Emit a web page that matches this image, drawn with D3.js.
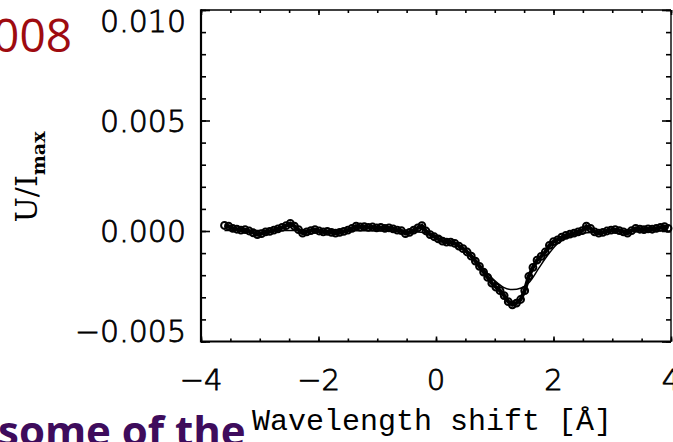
<!DOCTYPE html>
<html>
<head>
<meta charset="utf-8">
<script src="https://cdn.jsdelivr.net/npm/d3@7"></script>
<style>
  html, body { margin: 0; padding: 0; background: #fff; overflow: hidden; }
</style>
</head>
<body>
<div id="chart"></div>
<script>
// Stokes U profile vs wavelength shift, observed points + fitted curve

// observed points (wavelength shift in Angstrom, U/Imax)
const obsX = [-3.60,-3.53,-3.46,-3.39,-3.32,-3.25,-3.18,-3.11,-3.04,-2.97,-2.90,-2.83,-2.76,-2.69,-2.62,-2.55,-2.48,-2.41,-2.34,-2.27,
  -2.20,-2.13,-2.06,-1.99,-1.92,-1.85,-1.78,-1.71,-1.64,-1.57,-1.50,-1.43,-1.36,-1.29,-1.22,-1.15,-1.08,-1.01,-0.94,-0.87,
  -0.80,-0.73,-0.66,-0.59,-0.52,-0.45,-0.38,-0.31,-0.24,-0.17,-0.10,-0.03,0.04,0.11,0.18,0.25,0.32,0.39,0.46,0.53,
  0.60,0.67,0.74,0.81,0.88,0.95,1.02,1.09,1.16,1.23,1.30,1.37,1.44,1.51,1.58,1.65,1.72,1.79,1.86,1.93,
  2.00,2.07,2.14,2.21,2.28,2.35,2.42,2.49,2.56,2.63,2.70,2.77,2.84,2.91,2.98,3.05,3.12,3.19,3.26,3.33,
  3.40,3.47,3.54,3.61,3.68,3.75,3.82,3.89,3.95];
const obsU = [0.00025,0.00022,0.00012,0.00008,0.00004,0.00006,0.00000,-0.00008,-0.00016,-0.00012,-0.00004,-0.00002,0.00004,0.00010,0.00016,0.00024,0.00034,0.00022,0.00006,-0.00010,
  -0.00004,0.00002,0.00006,0.00000,-0.00004,-0.00002,-0.00006,-0.00010,-0.00006,-0.00002,0.00004,0.00012,0.00022,0.00018,0.00020,0.00016,0.00018,0.00014,0.00016,0.00012,
  0.00014,0.00010,0.00004,0.00002,-0.00012,-0.00006,0.00004,0.00014,0.00024,0.00000,-0.00016,-0.00026,-0.00036,-0.00046,-0.00050,-0.00050,-0.00056,-0.00068,-0.00080,-0.00095,
  -0.00114,-0.00136,-0.00160,-0.00186,-0.00210,-0.00236,-0.00254,-0.00270,-0.00292,-0.00320,-0.00334,-0.00326,-0.00310,-0.00270,-0.00205,-0.00165,-0.00132,-0.00115,-0.00095,-0.00065,
  -0.00048,-0.00040,-0.00028,-0.00020,-0.00014,-0.00010,-0.00004,0.00002,0.00022,0.00012,-0.00004,-0.00010,-0.00006,0.00000,0.00004,0.00006,0.00002,-0.00004,-0.00010,0.00002,
  0.00012,0.00008,0.00006,0.00010,0.00008,0.00012,0.00016,0.00020,0.00012];

// fitted profile
const fitX = [-3.6,-2.0,-1.0,-0.5,-0.2,0.0,0.2,0.4,0.6,0.8,1.0,1.15,1.3,1.45,1.6,1.75,1.9,2.05,2.2,2.4,2.7,3.1,3.95];
const fitU = [0.00002,0.00002,0.00001,-0.00002,-0.00008,-0.00020,-0.00040,-0.00070,-0.00110,-0.00170,-0.00225,-0.00255,-0.00265,-0.00258,-0.00228,-0.00168,-0.00110,-0.00062,-0.00032,-0.00015,-0.00006,-0.00002,0.00001];

// axis ticks
const xTickVals = [-4, -2, 0, 2, 4];
const yTickVals = [-0.005, 0.000, 0.005, 0.010];
const yTickLabels = ["\u22120.005", "0.000", "0.005", "0.010"];

const width = 673, height = 442;
const plotL = 201, plotR = 671, plotT = 10, plotB = 341.5;

const svg = d3.select("#chart").append("svg")
    .attr("width", width)
    .attr("height", height);

const x = d3.scaleLinear().domain([-4, 4]).range([plotL, plotR]);
const y = d3.scaleLinear().domain([-0.005, 0.010]).range([plotB, plotT]);

// minor / major ticks on all four sides (pointing inward)
const xMinor = d3.range(-4, 4.001, 0.5);
const yMinor = d3.range(-0.005, 0.01001, 0.001);

function tickGroup(axis, tx, ty) {
  const g = svg.append("g").attr("transform", `translate(${tx},${ty})`).call(axis);
  g.select(".domain").remove();
  g.selectAll("text").remove();
  g.selectAll("line").attr("stroke", "#000").attr("stroke-width", 1.6);
  return g;
}
tickGroup(d3.axisBottom(x).tickValues(xMinor).tickSize(-3), 0, plotB);
tickGroup(d3.axisBottom(x).tickValues(xTickVals).tickSize(-5), 0, plotB);
tickGroup(d3.axisTop(x).tickValues(xMinor).tickSize(-3), 0, plotT);
tickGroup(d3.axisTop(x).tickValues(xTickVals).tickSize(-5), 0, plotT);
tickGroup(d3.axisLeft(y).tickValues(yMinor).tickSize(-5), plotL, 0);
tickGroup(d3.axisLeft(y).tickValues(yTickVals).tickSize(-9), plotL, 0);
tickGroup(d3.axisRight(y).tickValues(yMinor).tickSize(-5), plotR, 0);
tickGroup(d3.axisRight(y).tickValues(yTickVals).tickSize(-9), plotR, 0);

// frame
svg.append("line").attr("x1", plotL).attr("x2", plotR).attr("y1", plotT).attr("y2", plotT)
    .attr("stroke", "#000").attr("stroke-width", 1.4);
svg.append("line").attr("x1", plotR).attr("x2", plotR).attr("y1", plotT).attr("y2", plotB)
    .attr("stroke", "#000").attr("stroke-width", 1.4);
svg.append("line").attr("x1", plotL).attr("x2", plotR).attr("y1", plotB).attr("y2", plotB)
    .attr("stroke", "#000").attr("stroke-width", 2);
svg.append("line").attr("x1", plotL).attr("x2", plotL).attr("y1", plotT - 0.7).attr("y2", plotB + 1)
    .attr("stroke", "#000").attr("stroke-width", 2.2);

// tick labels
svg.append("g").selectAll("text")
  .data(xTickVals)
  .join("text")
    .attr("x", d => x(d))
    .attr("y", 390)
    .attr("text-anchor", "middle")
    .attr("font-family", "DejaVu Sans")
    .attr("font-weight", 200)
    .attr("font-size", 29)
    .attr("stroke", "#000")
    .attr("stroke-width", 0.8)
    .text(d => d < 0 ? "\u2212" + Math.abs(d) : d);

svg.append("g").selectAll("text")
  .data(yTickVals)
  .join("text")
    .attr("x", 186)
    .attr("y", d => Math.min(Math.max(y(d), 21), 331) + 11)
    .attr("text-anchor", "end")
    .attr("font-family", "DejaVu Sans")
    .attr("font-weight", 200)
    .attr("font-size", 30)
    .attr("stroke", "#000")
    .attr("stroke-width", 0.8)
    .text((d, i) => yTickLabels[i]);

// axis titles
svg.append("text")
    .attr("x", 432)
    .attr("y", 430)
    .attr("text-anchor", "middle")
    .attr("font-family", "Liberation Mono")
    .attr("font-size", 30)
    .text("Wavelength shift [\u00C5]");

const yt = svg.append("text")
    .attr("transform", "translate(37,177) rotate(-90)")
    .attr("text-anchor", "middle")
    .attr("font-family", "DejaVu Serif")
    .attr("font-size", 30)
    .text("U/I");
yt.append("tspan").attr("font-size", 19).attr("font-weight", "bold").attr("dy", 8).text("max");

// observed data: connected open circles
const obs = obsX.map((d, i) => ({x: d, u: obsU[i]}));
const fit = fitX.map((d, i) => ({x: d, u: fitU[i]}));

svg.append("path")
    .datum(fit)
    .attr("d", d3.line().x(d => x(d.x)).y(d => y(d.u)).curve(d3.curveMonotoneX))
    .attr("fill", "none")
    .attr("stroke", "#000")
    .attr("stroke-width", 1.5);

svg.append("path")
    .datum(obs)
    .attr("d", d3.line().x(d => x(d.x)).y(d => y(d.u)))
    .attr("fill", "none")
    .attr("stroke", "#000")
    .attr("stroke-width", 4);

svg.append("g").selectAll("circle")
  .data(obs)
  .join("circle")
    .attr("cx", d => x(d.x))
    .attr("cy", d => y(d.u))
    .attr("r", 3.4)
    .attr("fill", "none")
    .attr("stroke", "#000")
    .attr("stroke-width", 2);

// slide text fragments around the figure
svg.append("text")
    .attr("x", 72)
    .attr("y", 52)
    .attr("text-anchor", "end")
    .attr("font-family", "Open Sans")
    .attr("font-size", 46)
    .attr("fill", "#9e0b10")
    .text("2008");

svg.append("text")
    .attr("x", -2)
    .attr("y", 446)
    .attr("font-family", "Open Sans")
    .attr("font-weight", "bold")
    .attr("font-size", 42)
    .attr("fill", "#3e0c5c")
    .text("some of the");
</script>
</body>
</html>
